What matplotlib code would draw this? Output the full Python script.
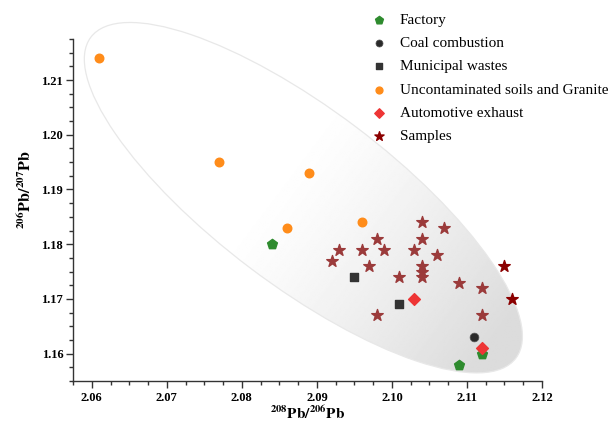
import numpy as np
import matplotlib
matplotlib.use('Agg')
import matplotlib.pyplot as plt
from matplotlib.patches import Ellipse
from matplotlib.transforms import Affine2D
from matplotlib.ticker import MultipleLocator

plt.rcParams['font.family'] = 'Liberation Serif'
plt.rcParams['mathtext.fontset'] = 'stix'

# Datos
factory_x = [2.084, 2.109, 2.112]
factory_y = [1.180, 1.158, 1.160]

coal_x = [2.111]
coal_y = [1.163]

waste_x = [2.095, 2.101]
waste_y = [1.174, 1.169]

soil_x = [2.061, 2.077, 2.089, 2.086, 2.096]
soil_y = [1.214, 1.195, 1.193, 1.183, 1.184]

auto_x = [2.103, 2.112]
auto_y = [1.170, 1.161]

samples_x = [2.104, 2.107, 2.098, 2.104, 2.093, 2.096, 2.099, 2.103, 2.106, 2.092,
             2.097, 2.104, 2.104, 2.104, 2.101, 2.109, 2.112, 2.098, 2.112]
samples_y = [1.184, 1.183, 1.181, 1.181, 1.179, 1.179, 1.179, 1.179, 1.178, 1.177,
             1.176, 1.176, 1.175, 1.174, 1.174, 1.173, 1.172, 1.167, 1.167]
samples2_x = [2.115, 2.116]
samples2_y = [1.176, 1.170]

# elipse (centro en datos, semiejes en px de la figura original)
ell_cx, ell_cy = 2.0882, 1.1885
ell_a, ell_b, ell_ang = 266, 88, -37
px_x, px_y = 7500, 5460   # px por unidad

fig = plt.figure(figsize=(6.12, 4.22), dpi=100)
ax = fig.add_axes([73/612, 41/422, 469/612, 342/422])

ell_tr = Affine2D().rotate_deg(ell_ang).scale(1/px_x, 1/px_y).translate(ell_cx, ell_cy) + ax.transData
ell = Ellipse((0, 0), 2*ell_a, 2*ell_b, facecolor='none', edgecolor='#e8e8e8', lw=0.9,
              transform=ell_tr, zorder=2, clip_on=False)
ax.add_patch(ell)

# degradado dentro de la elipse
x0, x1, y0, y1 = 2.0560, 2.1230, 1.1500, 1.2220
gx = np.linspace(x0, x1, 400)
gy = np.linspace(y0, y1, 300)
GX, GY = np.meshgrid(gx, gy)
dx = (GX - ell_cx) * px_x
dy = (GY - ell_cy) * px_y
th = np.deg2rad(ell_ang)
t = (dx*np.cos(th) + dy*np.sin(th)) / ell_a
g = np.clip((t + 0.15) / 1.05, 0, 1) ** 1.3
img = 1 - 0.14 * g
im = ax.imshow(img, extent=[x0, x1, y0, y1], origin='lower', cmap='gray',
               vmin=0, vmax=1, aspect='auto', zorder=1, interpolation='bilinear')
im.set_clip_path(ell)
im.set_clip_box(None)
ax.set_xlim(2.0575, 2.12)
ax.set_ylim(1.155, 1.2175)

ax.scatter(factory_x, factory_y, marker='p', s=55, color='#2e8b2e', label='Factory', zorder=4)
ax.scatter(coal_x, coal_y, marker='o', s=40, color='#2a2a2a', edgecolor='#555555', lw=0.5,
           label='Coal combustion', zorder=4)
ax.scatter(waste_x, waste_y, marker='s', s=32, color='#333333', label='Municipal wastes', zorder=4)
ax.scatter(soil_x, soil_y, marker='o', s=38, color='#ff8c1a', label='Uncontaminated soils and Granite', zorder=4)
ax.scatter(auto_x, auto_y, marker='D', s=36, color='#ee3535', label='Automotive exhaust', zorder=5)
ax.scatter(samples_x, samples_y, marker='*', s=75, color='#9b3b3b', zorder=4)
ax.scatter(samples2_x, samples2_y, marker='*', s=75, color='#8b0000', label='Samples', zorder=4)

for s in ['top', 'right']:
    ax.spines[s].set_visible(False)
for s in ['left', 'bottom']:
    ax.spines[s].set_color('#333333')
    ax.spines[s].set_linewidth(1.0)

ax.xaxis.set_major_locator(MultipleLocator(0.01))
ax.xaxis.set_minor_locator(MultipleLocator(0.0025))
ax.yaxis.set_major_locator(MultipleLocator(0.01))
ax.yaxis.set_minor_locator(MultipleLocator(0.0025))
ax.tick_params(which='major', direction='out', length=5, width=1, color='#333333',
               labelsize=9, pad=3)
ax.tick_params(which='minor', direction='out', length=3, width=1, color='#333333')
ax.tick_params(axis='y', which='major', pad=2)
ax.set_xticks([2.06, 2.07, 2.08, 2.09, 2.10, 2.11, 2.12])
ax.set_xticklabels(['2.06', '2.07', '2.08', '2.09', '2.10', '2.11', '2.12'])
ax.set_yticks([1.16, 1.17, 1.18, 1.19, 1.20, 1.21])
ax.set_yticklabels(['1.16', '1.17', '1.18', '1.19', '1.20', '1.21'])
for lab in ax.get_xticklabels() + ax.get_yticklabels():
    lab.set_fontweight('bold')

ax.set_xlabel(r'$\mathbf{^{208}Pb/^{206}Pb}$', fontsize=11)
ax.set_ylabel(r'$\mathbf{^{206}Pb/^{207}Pb}$', fontsize=11.5)
ax.xaxis.set_label_coords(0.5, -0.069)
ax.yaxis.set_label_coords(-0.08, 0.56)

leg = ax.legend(loc='upper left', bbox_to_anchor=(371/612, 1 - 13/422), bbox_transform=fig.transFigure,
                frameon=False, fontsize=11, handlelength=1.0, handletextpad=0.9,
                labelspacing=0.63, borderpad=0, borderaxespad=0, markerscale=0.8)

fig.savefig('out.png', dpi=100)
